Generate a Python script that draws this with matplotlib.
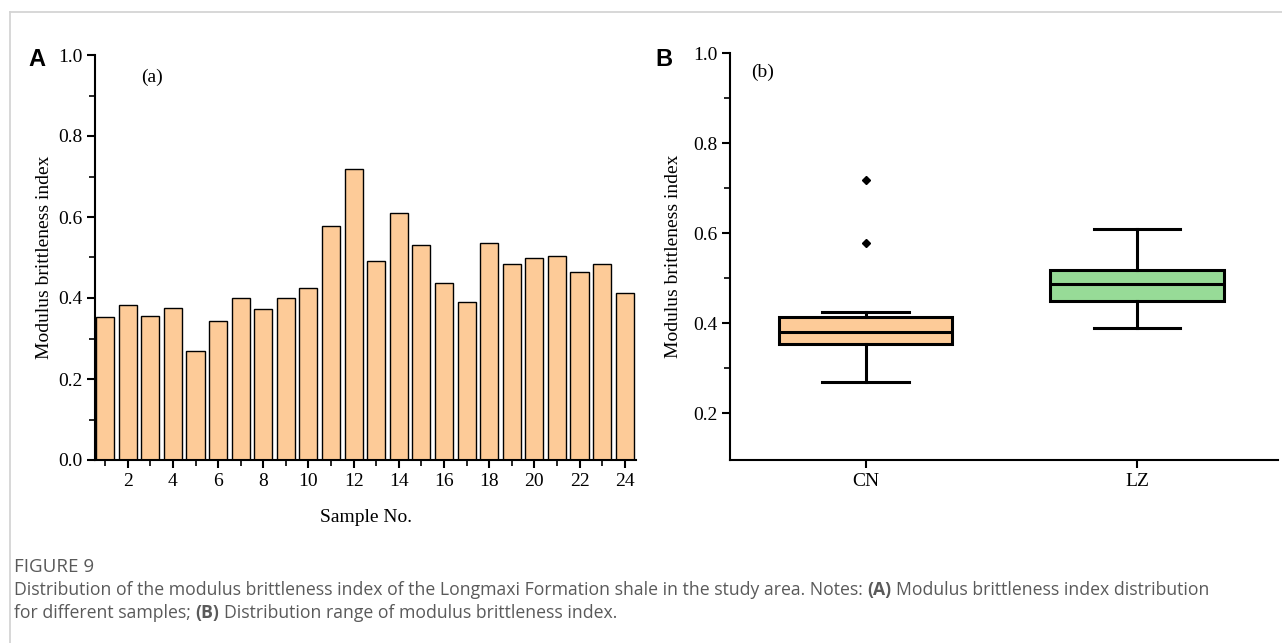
import numpy as np
import matplotlib
matplotlib.use("Agg")
import matplotlib.pyplot as plt
from matplotlib.ticker import MultipleLocator, FixedLocator

# values
samples = list(range(1, 25))
mbi = [0.352, 0.382, 0.356, 0.376, 0.270, 0.342, 0.400, 0.372, 0.400, 0.425,
       0.578, 0.718, 0.492, 0.610, 0.532, 0.436, 0.390, 0.537, 0.483, 0.498,
       0.503, 0.463, 0.483, 0.412]
groups = ["CN", "LZ"]
group_samples = [samples[:12], samples[12:]]
xticks_a = list(range(2, 25, 2))

peach = "#FDCB98"
green = "#97DB97"
serif = "Liberation Serif"

W, H = 1282, 643
fig = plt.figure(figsize=(W / 100, H / 100), dpi=100)


def fx(px):
    return px / W


def fy(py):
    return 1 - py / H


def style_axes(ax):
    for s in ("top", "right"):
        ax.spines[s].set_visible(False)
    for s in ("left", "bottom"):
        ax.spines[s].set_linewidth(1.5)
    ax.tick_params(which="major", direction="out", length=6, width=1.5,
                   labelsize=14, pad=3)
    ax.tick_params(which="minor", direction="out", length=4, width=1.2)
    for lab in ax.get_xticklabels() + ax.get_yticklabels():
        lab.set_fontfamily(serif)


# ---- panel A: bars
axA = fig.add_axes([fx(95), fy(460), fx(636 - 95), fy(55) - fy(460)])
axA.bar(samples, mbi, width=0.8, color=peach, edgecolor="black", linewidth=1.0)
axA.set_xlim(0.55, 24.5)
axA.set_ylim(0, 1.0)
axA.xaxis.set_major_locator(FixedLocator(xticks_a))
axA.xaxis.set_minor_locator(FixedLocator([s for s in samples if s % 2]))
axA.yaxis.set_minor_locator(MultipleLocator(0.1))
axA.set_yticks(np.arange(0, 1.01, 0.2))
axA.set_yticklabels([f"{v:.1f}" for v in np.arange(0, 1.01, 0.2)])
style_axes(axA)
axA.set_xlabel("Sample No.", fontfamily=serif, fontsize=14, labelpad=14)
axA.set_ylabel("Modulus brittleness index", fontfamily=serif, fontsize=14, labelpad=4)
axA.text(fx(152), fy(77), "(a)", transform=fig.transFigure, fontfamily=serif,
         fontsize=14, ha="center", va="center")

# ---- panel B: boxes (quartiles by the (n*p + 0.5) rule, whiskers 1.5 IQR)
axB = fig.add_axes([fx(730), fy(460), fx(1278 - 730), fy(53) - fy(460)])
stats = []
for name, idx in zip(groups, group_samples):
    vals = np.array([mbi[i - 1] for i in idx])
    q1, med, q3 = np.percentile(vals, [25, 50, 75], method="hazen")
    iqr = q3 - q1
    lo_f, hi_f = q1 - 1.5 * iqr, q3 + 1.5 * iqr
    inside = vals[(vals >= lo_f) & (vals <= hi_f)]
    stats.append(dict(label=name, med=med, q1=q1, q3=q3,
                      whislo=inside.min(), whishi=inside.max(),
                      fliers=vals[(vals < lo_f) | (vals > hi_f)]))
bp = axB.bxp(stats, positions=[1, 2], widths=0.64, capwidths=0.32,
             patch_artist=True,
             boxprops=dict(linewidth=2.2, edgecolor="black"),
             medianprops=dict(color="black", linewidth=2.2),
             whiskerprops=dict(color="black", linewidth=2.2),
             capprops=dict(color="black", linewidth=2.2),
             flierprops=dict(marker="D", markersize=4, markerfacecolor="black",
                             markeredgecolor="black"))
for patch, c in zip(bp["boxes"], [peach, green]):
    patch.set_facecolor(c)
axB.set_xlim(0.5, 2.52)
axB.set_ylim(0.0956, 1.0)
axB.set_yticks([0.2, 0.4, 0.6, 0.8, 1.0])
axB.set_yticklabels(["0.2", "0.4", "0.6", "0.8", "1.0"])
axB.yaxis.set_minor_locator(FixedLocator([0.3, 0.5, 0.7, 0.9]))
style_axes(axB)
axB.set_ylabel("Modulus brittleness index", fontfamily=serif, fontsize=14, labelpad=8)
axB.text(fx(763), fy(72), "(b)", transform=fig.transFigure, fontfamily=serif,
         fontsize=14, ha="center", va="center")

# panel letters
fig.text(fx(28), fy(66), "A", fontfamily="Liberation Sans", fontweight="bold",
         fontsize=17, ha="left", va="baseline")
fig.text(fx(655), fy(66), "B", fontfamily="Liberation Sans", fontweight="bold",
         fontsize=17, ha="left", va="baseline")

# frame lines
fig.add_artist(plt.Line2D([fx(9.5), 1], [fy(12), fy(12)], color="#d4d4d4", lw=1.3))
fig.add_artist(plt.Line2D([fx(9.5), fx(9.5)], [fy(12), 0], color="#d4d4d4", lw=1.3))

# caption
cap_color = "#5a5a5a"
cap_font = "Open Sans"
cap_size = 12.7
fig.text(fx(14), fy(572), "FIGURE 9", fontfamily=cap_font, fontsize=13.5,
         color=cap_color, va="baseline")

renderer = fig.canvas.get_renderer()


def width_of(s, bold):
    t = fig.text(0, 0, s, fontfamily=cap_font, fontsize=cap_size,
                 fontweight="bold" if bold else "normal")
    w = t.get_window_extent(renderer).width
    t.remove()
    return w


space_w = width_of("a a", False) - width_of("aa", False)


def rich_line(x_px, y_px, parts):
    x = x_px
    for i, (s, bold) in enumerate(parts):
        if i:
            x += space_w
        t = fig.text(fx(x), fy(y_px), s, fontfamily=cap_font, fontsize=cap_size,
                     fontweight="bold" if bold else "normal", color=cap_color,
                     va="baseline")
        x += t.get_window_extent(renderer).width


rich_line(14, 595, [("Distribution of the modulus brittleness index of the Longmaxi "
                     "Formation shale in the study area. Notes:", False),
                    ("(A)", True),
                    ("Modulus brittleness index distribution", False)])
rich_line(14, 618, [("for different samples;", False), ("(B)", True),
                    ("Distribution range of modulus brittleness index.", False)])

fig.savefig("out.png", dpi=100)
